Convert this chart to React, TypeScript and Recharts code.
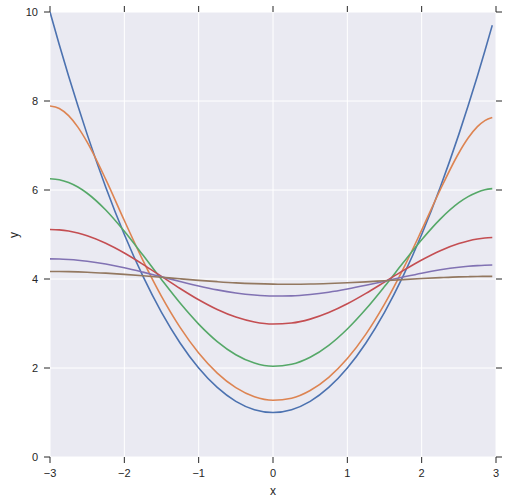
import { LineChart, Line, XAxis, YAxis, CartesianGrid } from "recharts";

// x positions of the samples (denser near the ends, last one at 2.95)
const X_VALUES = [-3, -2.875, -2.75, -2.625, -2.5, -2.25, -2, -1.75, -1.5, -1.25, -1, -0.75, -0.5, -0.25, 0, 0.25, 0.5, 0.75, 1, 1.25, 1.5, 1.75, 2, 2.25, 2.5, 2.625, 2.75, 2.85, 2.95];

const BLUE = [10, 9.266, 8.563, 7.891, 7.25, 6.063, 5, 4.063, 3.25, 2.563, 2, 1.563, 1.25, 1.063, 1, 1.063, 1.25, 1.563, 2, 2.563, 3.25, 4.063, 5, 6.063, 7.25, 7.891, 8.563, 9.123, 9.703];
const ORANGE = [7.889, 7.833, 7.671, 7.412, 7.074, 6.238, 5.314, 4.419, 3.61, 2.913, 2.337, 1.886, 1.558, 1.354, 1.275, 1.322, 1.494, 1.79, 2.212, 2.761, 3.434, 4.221, 5.098, 6.006, 6.832, 7.167, 7.423, 7.56, 7.63];
const GREEN = [6.253, 6.232, 6.169, 6.067, 5.927, 5.55, 5.072, 4.537, 3.987, 3.459, 2.987, 2.594, 2.299, 2.111, 2.039, 2.083, 2.241, 2.51, 2.877, 3.325, 3.831, 4.363, 4.882, 5.346, 5.715, 5.851, 5.951, 6.004, 6.03];
const RED = [5.114, 5.104, 5.077, 5.033, 4.971, 4.803, 4.584, 4.33, 4.059, 3.787, 3.533, 3.314, 3.144, 3.034, 2.988, 3.01, 3.098, 3.246, 3.443, 3.677, 3.931, 4.188, 4.428, 4.637, 4.797, 4.856, 4.899, 4.921, 4.932];
const PURPLE = [4.453, 4.45, 4.439, 4.423, 4.4, 4.336, 4.253, 4.155, 4.05, 3.944, 3.844, 3.756, 3.686, 3.639, 3.617, 3.621, 3.65, 3.702, 3.774, 3.858, 3.95, 4.043, 4.131, 4.206, 4.264, 4.285, 4.301, 4.309, 4.313];
const BROWN = [4.17, 4.169, 4.166, 4.16, 4.153, 4.132, 4.105, 4.074, 4.039, 4.004, 3.97, 3.94, 3.914, 3.896, 3.885, 3.882, 3.886, 3.898, 3.915, 3.936, 3.961, 3.986, 4.01, 4.03, 4.047, 4.052, 4.056, 4.059, 4.06];

const X_TICKS = [-3, -2, -1, 0, 1, 2, 3];
const Y_TICKS = [0, 2, 4, 6, 8, 10];

const SERIES = [
    { key: "s0", values: BLUE, color: "#4C72B0" },
    { key: "s1", values: ORANGE, color: "#DD8452" },
    { key: "s2", values: GREEN, color: "#55A868" },
    { key: "s3", values: RED, color: "#C44E52" },
    { key: "s4", values: PURPLE, color: "#8172B3" },
    { key: "s5", values: BROWN, color: "#937860" },
];

const data = X_VALUES.map((x, i) => {
    const row: Record<string, number> = { x };
    SERIES.forEach((s) => { row[s.key] = s.values[i]; });
    return row;
});

const INK = "#262626";
const FONT = "'Liberation Sans', Arial, sans-serif";
const tickStyle = { fill: INK, fontSize: 11, fontFamily: FONT };

// matplotlib uses a real minus sign
const fmt = (v: number) => (v < 0 ? "\u2212" + Math.abs(v) : String(v));
// top/right axes: tick marks only, no labels
const noLabel = () => <g />;

export default function App() {
    return (
        <div style={{ position: "absolute", left: 0, top: 0, width: 506, height: 503 }}>
            <LineChart width={506} height={503} data={data} margin={{ top: 0, right: 0, bottom: 16, left: 0 }}>
                <CartesianGrid fill="#EAEAF2" stroke="#ffffff" strokeWidth={1} />
                <XAxis dataKey="x" type="number" domain={[-3, 3]} ticks={X_TICKS} allowDataOverflow
                       height={30} axisLine={false} stroke={INK} tickSize={6} tickMargin={6}
                       tick={tickStyle} tickFormatter={fmt} />
                <XAxis xAxisId="top" orientation="top" dataKey="x" type="number" domain={[-3, 3]}
                       ticks={X_TICKS} allowDataOverflow height={12} axisLine={false} stroke={INK}
                       tickSize={6} tick={noLabel} />
                <YAxis type="number" domain={[0, 10]} ticks={Y_TICKS} allowDataOverflow width={50}
                       axisLine={false} stroke={INK} tickSize={6} tickMargin={6} tick={tickStyle}
                       tickFormatter={fmt} />
                <YAxis yAxisId="right" orientation="right" type="number" domain={[0, 10]} ticks={Y_TICKS}
                       allowDataOverflow width={10} axisLine={false} stroke={INK} tickSize={6} tick={noLabel} />
                {SERIES.map((s) => (
                    <Line key={s.key} type="monotoneX" dataKey={s.key} stroke={s.color} strokeWidth={1.6}
                          dot={false} activeDot={false} isAnimationActive={false} />
                ))}
            </LineChart>
            <svg width={506} height={503} style={{ position: "absolute", left: 0, top: 0, pointerEvents: "none" }}>
                <text x={273} y={495} textAnchor="middle" fill={INK} fontSize={12} fontFamily={FONT}>x</text>
                <text x={18} y={235} textAnchor="middle" fill={INK} fontSize={12} fontFamily={FONT}
                      transform="rotate(-90 18 235)">y</text>
            </svg>
        </div>
    );
}
